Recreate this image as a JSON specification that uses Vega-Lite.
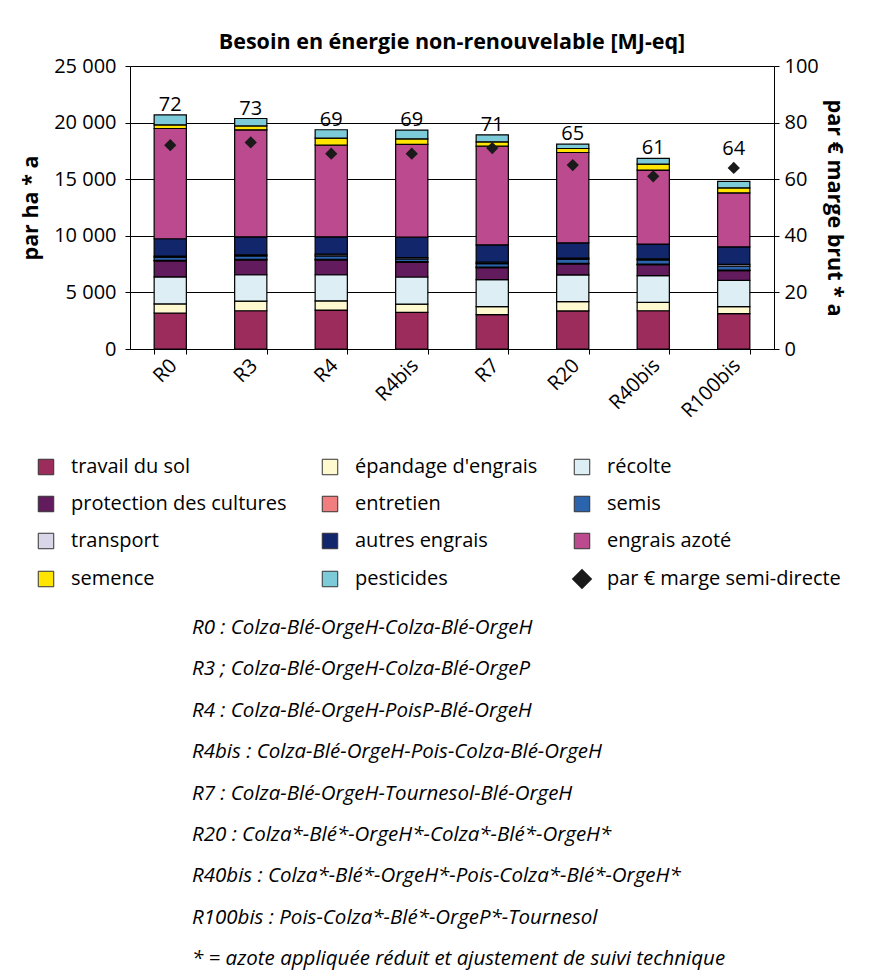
{
  "$schema": "https://vega.github.io/schema/vega-lite/v6.json",
  "padding": {"left": 20, "top": 31, "right": 24, "bottom": 0},
  "bounds": "flush",
  "spacing": 258,
  "center": true,
  "config": {
    "font": "Open Sans",
    "view": {"stroke": null},
    "axis": {
      "labelFont": "Open Sans", "titleFont": "Open Sans",
      "labelColor": "black", "titleColor": "black",
      "domainColor": "black", "tickColor": "black", "gridColor": "black",
      "labelFontSize": 20, "titleFontSize": 21.5, "titleFontWeight": "bold",
      "tickSize": 5, "domainWidth": 1, "tickWidth": 1, "gridWidth": 1
    },
    "legend": {
      "labelFont": "Open Sans", "labelFontSize": 20, "labelColor": "black", "labelLimit": 400
    }
  },
  "datasets": {
    "postes": [
      {"rotation": "R0", "poste": "travail du sol", "mj": 3180},
      {"rotation": "R0", "poste": "épandage d'engrais", "mj": 800},
      {"rotation": "R0", "poste": "récolte", "mj": 2390},
      {"rotation": "R0", "poste": "protection des cultures", "mj": 1410},
      {"rotation": "R0", "poste": "entretien", "mj": 50},
      {"rotation": "R0", "poste": "semis", "mj": 290},
      {"rotation": "R0", "poste": "transport", "mj": 90},
      {"rotation": "R0", "poste": "autres engrais", "mj": 1530},
      {"rotation": "R0", "poste": "engrais azoté", "mj": 9740},
      {"rotation": "R0", "poste": "semence", "mj": 320},
      {"rotation": "R0", "poste": "pesticides", "mj": 880},
      {"rotation": "R3", "poste": "travail du sol", "mj": 3380},
      {"rotation": "R3", "poste": "épandage d'engrais", "mj": 850},
      {"rotation": "R3", "poste": "récolte", "mj": 2330},
      {"rotation": "R3", "poste": "protection des cultures", "mj": 1320},
      {"rotation": "R3", "poste": "entretien", "mj": 50},
      {"rotation": "R3", "poste": "semis", "mj": 290},
      {"rotation": "R3", "poste": "transport", "mj": 100},
      {"rotation": "R3", "poste": "autres engrais", "mj": 1590},
      {"rotation": "R3", "poste": "engrais azoté", "mj": 9450},
      {"rotation": "R3", "poste": "semence", "mj": 350},
      {"rotation": "R3", "poste": "pesticides", "mj": 650},
      {"rotation": "R4", "poste": "travail du sol", "mj": 3440},
      {"rotation": "R4", "poste": "épandage d'engrais", "mj": 820},
      {"rotation": "R4", "poste": "récolte", "mj": 2300},
      {"rotation": "R4", "poste": "protection des cultures", "mj": 1320},
      {"rotation": "R4", "poste": "entretien", "mj": 50},
      {"rotation": "R4", "poste": "semis", "mj": 300},
      {"rotation": "R4", "poste": "transport", "mj": 150},
      {"rotation": "R4", "poste": "autres engrais", "mj": 1530},
      {"rotation": "R4", "poste": "engrais azoté", "mj": 8100},
      {"rotation": "R4", "poste": "semence", "mj": 620},
      {"rotation": "R4", "poste": "pesticides", "mj": 740},
      {"rotation": "R4bis", "poste": "travail du sol", "mj": 3230},
      {"rotation": "R4bis", "poste": "épandage d'engrais", "mj": 740},
      {"rotation": "R4bis", "poste": "récolte", "mj": 2390},
      {"rotation": "R4bis", "poste": "protection des cultures", "mj": 1300},
      {"rotation": "R4bis", "poste": "entretien", "mj": 50},
      {"rotation": "R4bis", "poste": "semis", "mj": 240},
      {"rotation": "R4bis", "poste": "transport", "mj": 130},
      {"rotation": "R4bis", "poste": "autres engrais", "mj": 1800},
      {"rotation": "R4bis", "poste": "engrais azoté", "mj": 8190},
      {"rotation": "R4bis", "poste": "semence", "mj": 500},
      {"rotation": "R4bis", "poste": "pesticides", "mj": 770},
      {"rotation": "R7", "poste": "travail du sol", "mj": 3030},
      {"rotation": "R7", "poste": "épandage d'engrais", "mj": 710},
      {"rotation": "R7", "poste": "récolte", "mj": 2390},
      {"rotation": "R7", "poste": "protection des cultures", "mj": 1060},
      {"rotation": "R7", "poste": "entretien", "mj": 50},
      {"rotation": "R7", "poste": "semis", "mj": 300},
      {"rotation": "R7", "poste": "transport", "mj": 130},
      {"rotation": "R7", "poste": "autres engrais", "mj": 1530},
      {"rotation": "R7", "poste": "engrais azoté", "mj": 8720},
      {"rotation": "R7", "poste": "semence", "mj": 380},
      {"rotation": "R7", "poste": "pesticides", "mj": 620},
      {"rotation": "R20", "poste": "travail du sol", "mj": 3360},
      {"rotation": "R20", "poste": "épandage d'engrais", "mj": 820},
      {"rotation": "R20", "poste": "récolte", "mj": 2360},
      {"rotation": "R20", "poste": "protection des cultures", "mj": 970},
      {"rotation": "R20", "poste": "entretien", "mj": 50},
      {"rotation": "R20", "poste": "semis", "mj": 380},
      {"rotation": "R20", "poste": "transport", "mj": 90},
      {"rotation": "R20", "poste": "autres engrais", "mj": 1350},
      {"rotation": "R20", "poste": "engrais azoté", "mj": 7980},
      {"rotation": "R20", "poste": "semence", "mj": 350},
      {"rotation": "R20", "poste": "pesticides", "mj": 380},
      {"rotation": "R40bis", "poste": "travail du sol", "mj": 3380},
      {"rotation": "R40bis", "poste": "épandage d'engrais", "mj": 740},
      {"rotation": "R40bis", "poste": "récolte", "mj": 2360},
      {"rotation": "R40bis", "poste": "protection des cultures", "mj": 970},
      {"rotation": "R40bis", "poste": "entretien", "mj": 50},
      {"rotation": "R40bis", "poste": "semis", "mj": 380},
      {"rotation": "R40bis", "poste": "transport", "mj": 90},
      {"rotation": "R40bis", "poste": "autres engrais", "mj": 1300},
      {"rotation": "R40bis", "poste": "engrais azoté", "mj": 6540},
      {"rotation": "R40bis", "poste": "semence", "mj": 530},
      {"rotation": "R40bis", "poste": "pesticides", "mj": 500},
      {"rotation": "R100bis", "poste": "travail du sol", "mj": 3120},
      {"rotation": "R100bis", "poste": "épandage d'engrais", "mj": 620},
      {"rotation": "R100bis", "poste": "récolte", "mj": 2330},
      {"rotation": "R100bis", "poste": "protection des cultures", "mj": 850},
      {"rotation": "R100bis", "poste": "entretien", "mj": 50},
      {"rotation": "R100bis", "poste": "semis", "mj": 350},
      {"rotation": "R100bis", "poste": "transport", "mj": 150},
      {"rotation": "R100bis", "poste": "autres engrais", "mj": 1560},
      {"rotation": "R100bis", "poste": "engrais azoté", "mj": 4770},
      {"rotation": "R100bis", "poste": "semence", "mj": 440},
      {"rotation": "R100bis", "poste": "pesticides", "mj": 560}
    ],
    "marges": [
      {"rotation": "R0", "marge": 72},
      {"rotation": "R3", "marge": 73},
      {"rotation": "R4", "marge": 69},
      {"rotation": "R4bis", "marge": 69},
      {"rotation": "R7", "marge": 71},
      {"rotation": "R20", "marge": 65},
      {"rotation": "R40bis", "marge": 61},
      {"rotation": "R100bis", "marge": 64}
    ],
    "notes": [
      {"ligne": "R0 : Colza-Blé-OrgeH-Colza-Blé-OrgeH"},
      {"ligne": "R3 ; Colza-Blé-OrgeH-Colza-Blé-OrgeP"},
      {"ligne": "R4 : Colza-Blé-OrgeH-PoisP-Blé-OrgeH"},
      {"ligne": "R4bis : Colza-Blé-OrgeH-Pois-Colza-Blé-OrgeH"},
      {"ligne": "R7 : Colza-Blé-OrgeH-Tournesol-Blé-OrgeH"},
      {"ligne": "R20 : Colza*-Blé*-OrgeH*-Colza*-Blé*-OrgeH*"},
      {"ligne": "R40bis : Colza*-Blé*-OrgeH*-Pois-Colza*-Blé*-OrgeH*"},
      {"ligne": "R100bis : Pois-Colza*-Blé*-OrgeP*-Tournesol"},
      {"ligne": "* = azote appliquée réduit et ajustement de suivi technique"}
    ]
  },
  "vconcat": [
    {
      "width": 644,
      "height": 283,
      "title": {
        "text": "Besoin en énergie non-renouvelable [MJ-eq]",
        "font": "Open Sans", "fontSize": 21.5, "fontWeight": "bold", "color": "black",
        "frame": "group", "anchor": "middle", "offset": 3
      },
      "layer": [
        {
          "data": {"name": "postes"},
          "transform": [
            {"calculate": "indexof(['travail du sol', \"épandage d'engrais\", 'récolte', 'protection des cultures', 'entretien', 'semis', 'transport', 'autres engrais', 'engrais azoté', 'semence', 'pesticides'], datum.poste)", "as": "rang"}
          ],
          "mark": {"type": "bar", "stroke": "black", "strokeWidth": 1.2},
          "encoding": {
            "x": {
              "field": "rotation", "type": "nominal",
              "sort": ["R0", "R3", "R4", "R4bis", "R7", "R20", "R40bis", "R100bis"],
              "scale": {"paddingInner": 0.6, "paddingOuter": 0.3},
              "axis": {"title": null, "labelAngle": -45, "tickBand": "extent", "labelPadding": 1, "labelOffset": -4, "labelFontSize": 20}
            },
            "y": {
              "field": "mj", "type": "quantitative", "stack": "zero",
              "scale": {"domain": [0, 25000]},
              "axis": {
                "title": "par ha * a", "values": [0, 5000, 10000, 15000, 20000, 25000],
                "grid": true, "labelPadding": 9, "titlePadding": 11,
                "labelExpr": "replace(format(datum.value, ','), ',', ' ')"
              }
            },
            "order": {"field": "rang", "type": "quantitative", "sort": "ascending"},
            "color": {
              "field": "poste", "type": "nominal",
              "scale": {
                "domain": ["travail du sol", "épandage d'engrais", "récolte", "protection des cultures", "entretien", "semis", "transport", "autres engrais", "engrais azoté", "semence", "pesticides", "par € marge semi-directe"],
                "range": ["#9B2C5C", "#FFF9CF", "#DDEEF5", "#621B5C", "#F07E7E", "#2B63AC", "#D9D6EA", "#11266B", "#BB4B8E", "#FFE500", "#7DCBD9", "#1A1A1A"]
              },
              "legend": {
                "title": null, "orient": "none", "legendX": -94, "legendY": 391,
                "columns": 3, "direction": "horizontal",
                "symbolType": "square", "symbolSize": 240,
                "symbolStrokeColor": "#333333", "symbolStrokeWidth": 1,
                "rowPadding": 17, "columnPadding": 33, "labelOffset": 15,
                "encode": {
                  "symbols": {
                    "update": {
                      "shape": {"signal": "datum.value === 'par € marge semi-directe' ? 'diamond' : 'square'"},
                      "size": {"signal": "datum.value === 'par € marge semi-directe' ? 420 : 240"},
                      "strokeWidth": {"signal": "datum.value === 'par € marge semi-directe' ? 0 : 1"}
                    }
                  }
                }
              }
            }
          }
        },
        {
          "data": {"name": "marges"},
          "mark": {"type": "point", "shape": "diamond", "filled": true, "size": 150, "color": "#1A1A1A", "opacity": 1},
          "encoding": {
            "x": {"field": "rotation", "type": "nominal", "sort": ["R0", "R3", "R4", "R4bis", "R7", "R20", "R40bis", "R100bis"]},
            "y": {
              "field": "marge", "type": "quantitative",
              "scale": {"domain": [0, 100]},
              "axis": {"title": "par € marge brut * a", "orient": "right", "values": [0, 20, 40, 60, 80, 100], "grid": false, "labelPadding": 5, "titlePadding": 4}
            }
          }
        },
        {
          "data": {"name": "postes"},
          "transform": [
            {"lookup": "rotation", "from": {"data": {"name": "marges"}, "key": "rotation", "fields": ["marge"]}},
            {"aggregate": [{"op": "sum", "field": "mj", "as": "total"}, {"op": "max", "field": "marge", "as": "marge"}], "groupby": ["rotation"]},
            {"calculate": "max(datum.total, datum.marge * 250 + 800)", "as": "ancre"}
          ],
          "mark": {"type": "text", "baseline": "alphabetic", "dy": -4, "fontSize": 20, "color": "black"},
          "encoding": {
            "x": {"field": "rotation", "type": "nominal", "sort": ["R0", "R3", "R4", "R4bis", "R7", "R20", "R40bis", "R100bis"]},
            "y": {"field": "ancre", "type": "quantitative", "scale": {"domain": [0, 25000]}, "axis": null},
            "text": {"field": "marge", "type": "quantitative"}
          }
        }
      ],
      "resolve": {"scale": {"y": "independent"}}
    },
    {
      "width": 520,
      "height": 373,
      "data": {"name": "notes"},
      "mark": {"type": "text", "align": "left", "fontStyle": "italic", "fontSize": 20.5, "color": "black", "x": 0},
      "encoding": {
        "y": {"field": "ligne", "type": "nominal", "sort": null, "axis": null, "scale": {"paddingInner": 0, "paddingOuter": 0}},
        "text": {"field": "ligne"}
      }
    }
  ]
}
